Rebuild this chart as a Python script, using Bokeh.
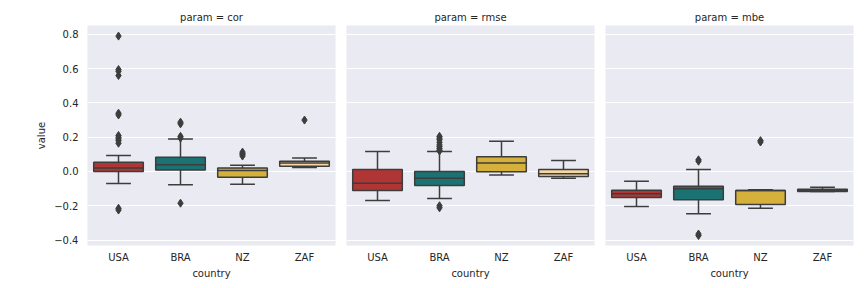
from bokeh.plotting import figure
from bokeh.layouts import row
from bokeh.models import ColumnDataSource, Range1d, FixedTicker, CustomJSTickFormatter
from bokeh.transform import dodge
from bokeh.embed import file_html
from bokeh.resources import INLINE

countries = ["USA", "BRA", "NZ", "ZAF"]
params = ["cor", "rmse", "mbe"]
colors = ["#b03636", "#1b7272", "#d5b03a", "#f3d8a6"]

# box statistics: lower whisker, q1, median, q3, upper whisker
cor_lo = [-0.070, -0.078, -0.074, 0.023]
cor_q1 = [0.000, 0.008, -0.033, 0.031]
cor_med = [0.020, 0.039, 0.006, 0.049]
cor_q3 = [0.054, 0.083, 0.020, 0.060]
cor_hi = [0.093, 0.190, 0.037, 0.078]

rmse_lo = [-0.169, -0.158, -0.021, -0.039]
rmse_q1 = [-0.111, -0.082, -0.002, -0.029]
rmse_med = [-0.068, -0.039, 0.049, -0.013]
rmse_q3 = [0.012, 0.000, 0.086, 0.012]
rmse_hi = [0.117, 0.117, 0.177, 0.064]

mbe_lo = [-0.204, -0.247, -0.214, -0.117]
mbe_q1 = [-0.152, -0.165, -0.193, -0.117]
mbe_med = [-0.130, -0.101, -0.111, -0.109]
mbe_q3 = [-0.109, -0.086, -0.111, -0.103]
mbe_hi = [-0.057, 0.012, -0.107, -0.092]

# outliers
cor_out_x = ["USA"] * 13 + ["BRA"] * 5 + ["NZ"] * 4 + ["ZAF"] * 1
cor_out_y = [0.79, 0.595, 0.585, 0.56, 0.34, 0.33, 0.21, 0.20, 0.19, 0.18, 0.165, -0.215, -0.225,
             0.288, 0.278, 0.205, 0.195, -0.185,
             0.113, 0.105, 0.098, 0.09,
             0.30]

rmse_out_x = ["BRA"] * 11
rmse_out_y = [0.205, 0.195, 0.185, 0.17, 0.155, 0.145, 0.135, 0.125, 0.12, -0.20, -0.212]

mbe_out_x = ["BRA", "BRA", "BRA", "BRA", "NZ", "NZ"]
mbe_out_y = [0.068, 0.060, -0.365, -0.374, 0.180, 0.172]

y_ticks = [-0.4, -0.2, 0.0, 0.2, 0.4, 0.6, 0.8]

stats = {
    "cor": (cor_lo, cor_q1, cor_med, cor_q3, cor_hi, cor_out_x, cor_out_y),
    "rmse": (rmse_lo, rmse_q1, rmse_med, rmse_q3, rmse_hi, rmse_out_x, rmse_out_y),
    "mbe": (mbe_lo, mbe_q1, mbe_med, mbe_q3, mbe_hi, mbe_out_x, mbe_out_y),
}

EDGE = "#3d3d3d"
TXT = "#262626"
FONT = "DejaVu Sans"

widths = {"cor": 340, "rmse": 259, "mbe": 265}
lefts = {"cor": 87, "rmse": 6, "mbe": 6}
rights = {"cor": 5, "rmse": 5, "mbe": 11}

figs = []
for i, prm in enumerate(params):
    lo, q1, med, q3, hi, ox, oy = stats[prm]
    p = figure(
        x_range=countries, y_range=Range1d(-0.432, 0.852),
        width=widths[prm], height=288,
        output_backend="svg", toolbar_location=None,
        min_border_left=lefts[prm], min_border_right=rights[prm],
        min_border_top=25, min_border_bottom=43,
        y_axis_location="left" if i == 0 else None,
        background_fill_color="#eaeaf2", border_fill_color="white",
        outline_line_color=None,
    )
    p.title.text = f"param = {prm}"
    p.title.align = "center"
    p.title.text_font = FONT
    p.title.text_font_size = "10px"
    p.title.text_font_style = "normal"
    p.title.text_color = TXT
    p.title.standoff = 6

    src = ColumnDataSource(dict(x=countries, lo=lo, q1=q1, med=med, q3=q3, hi=hi, color=colors))
    # whiskers
    p.segment(x0="x", y0="q3", x1="x", y1="hi", source=src, line_color=EDGE, line_width=1.5)
    p.segment(x0="x", y0="q1", x1="x", y1="lo", source=src, line_color=EDGE, line_width=1.5)
    # caps
    p.segment(x0=dodge("x", -0.2, range=p.x_range), y0="hi", x1=dodge("x", 0.2, range=p.x_range), y1="hi",
              source=src, line_color=EDGE, line_width=1.5)
    p.segment(x0=dodge("x", -0.2, range=p.x_range), y0="lo", x1=dodge("x", 0.2, range=p.x_range), y1="lo",
              source=src, line_color=EDGE, line_width=1.5)
    # boxes
    p.vbar(x="x", width=0.8, bottom="q1", top="q3", source=src, fill_color="color",
           line_color=EDGE, line_width=1.5)
    # medians
    p.segment(x0=dodge("x", -0.4, range=p.x_range), y0="med", x1=dodge("x", 0.4, range=p.x_range), y1="med",
              source=src, line_color=EDGE, line_width=1.5)
    # outliers
    osrc = ColumnDataSource(dict(x=ox, y=oy))
    p.scatter(x="x", y="y", source=osrc, marker="diamond", size=8, fill_color=EDGE, line_color=EDGE)

    p.xgrid.grid_line_color = None
    p.ygrid.grid_line_color = "white"
    p.ygrid.grid_line_width = 1
    p.ygrid.ticker = FixedTicker(ticks=y_ticks)

    xa = p.xaxis[0]
    xa.axis_label = "country"
    xa.axis_line_color = None
    xa.major_tick_line_color = None
    xa.minor_tick_line_color = None
    xa.major_tick_out = 0
    xa.major_tick_in = 0
    xa.minor_tick_out = 0
    xa.major_label_standoff = 6
    xa.axis_label_standoff = 2
    xa.major_label_text_font = FONT
    xa.major_label_text_font_size = "10px"
    xa.major_label_text_color = TXT
    xa.axis_label_text_font = FONT
    xa.axis_label_text_font_size = "10px"
    xa.axis_label_text_font_style = "normal"
    xa.axis_label_text_color = TXT

    if i == 0:
        ya = p.yaxis[0]
        ya.ticker = FixedTicker(ticks=y_ticks)
        ya.formatter = CustomJSTickFormatter(code="return tick.toFixed(1).replace('-', '\u2212');")
        ya.axis_label = "value"
        ya.axis_line_color = None
        ya.major_tick_line_color = None
        ya.minor_tick_line_color = None
        ya.major_tick_out = 0
        ya.major_tick_in = 0
        ya.minor_tick_out = 0
        ya.major_label_standoff = 9
        ya.axis_label_standoff = 4
        ya.major_label_text_font = FONT
        ya.major_label_text_font_size = "10px"
        ya.major_label_text_color = TXT
        ya.axis_label_text_font = FONT
        ya.axis_label_text_font_size = "10px"
        ya.axis_label_text_font_style = "normal"
        ya.axis_label_text_color = TXT
    figs.append(p)

layout = row(*figs)
open("out.html", "w").write(file_html(layout, INLINE))
